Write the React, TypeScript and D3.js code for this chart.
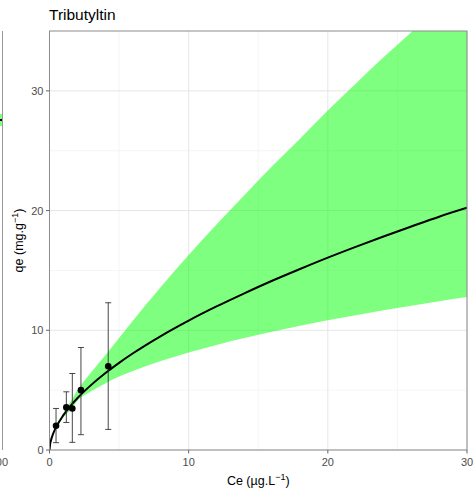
import React from "react";
import * as d3 from "d3";

const title = "Tributyltin";
const xTicks = [0, 10, 20, 30];
const yTicks = [0, 10, 20, 30];
const xMinor = [5, 15, 25];
const yMinor = [5, 15, 25];

// observed points (Ce, qe) with error bar bounds
const obsCe = [0.47, 1.21, 1.64, 2.26, 4.22];
const obsQe = [2.03, 3.56, 3.47, 5.0, 7.0];
const obsLow = [0.61, 2.3, 0.64, 1.28, 1.72];
const obsHigh = [3.47, 4.86, 6.39, 8.56, 12.3];

// fitted curve and confidence band
const fitCe = [0, 0.05, 0.1, 0.25, 0.5, 1, 1.5, 2, 3, 4, 5, 6, 8, 10, 12, 14, 16, 18, 20, 22, 24, 26, 28, 30];
const fitQe = [0, 0.53, 0.78, 1.32, 1.96, 2.91, 3.67, 4.32, 5.44, 6.41, 7.28, 8.08, 9.52, 10.81, 11.99, 13.09, 14.14, 15.12, 16.07, 16.97, 17.83, 18.67, 19.49, 20.23];
const bandHigh = [0, 0.55, 0.82, 1.4, 2.1, 3.1, 4.0, 5.0, 6.5, 7.9, 9.35, 10.82, 13.62, 16.28, 18.83, 21.28, 23.7, 26.0, 28.36, 30.6, 32.8, 34.9, 37.0, 39.1];
const bandLow = [0, 0.5, 0.74, 1.25, 1.85, 2.75, 3.3, 4.1, 4.9, 5.55, 6.13, 6.6, 7.43, 8.15, 8.78, 9.35, 9.88, 10.37, 10.83, 11.26, 11.67, 12.05, 12.43, 12.78];

const FONT = "'Liberation Sans', Arial, Helvetica, sans-serif";

export default function App() {
  const W = 475, H = 494;
  const left = 49.5, right = 467, top = 31, bottom = 450;
  const x = d3.scaleLinear().domain([0, 30]).range([left, right]);
  const y = d3.scaleLinear().domain([0, 35]).range([bottom, top]);

  const idx = fitCe.map((_, i) => i);
  const area = d3
    .area<number>()
    .x((i) => x(fitCe[i]))
    .y0((i) => y(bandLow[i]))
    .y1((i) => y(bandHigh[i]))
    .curve(d3.curveMonotoneX);
  const line = d3
    .line<number>()
    .x((i) => x(fitCe[i]))
    .y((i) => y(fitQe[i]))
    .curve(d3.curveMonotoneX);

  const tickCol = "#4d4d4d";
  const gridMajor = "#e6e6e6";
  const gridMinor = "#f2f2f2";

  return (
    <svg
      width={W}
      height={H}
      style={{ position: "absolute", left: 0, top: 0, background: "#fff" }}
      fontFamily={FONT}
    >
      <defs>
        <clipPath id="panel">
          <rect x={left} y={top} width={right - left} height={bottom - top} />
        </clipPath>
      </defs>
      <rect x={0} y={0} width={W} height={H} fill="#fff" />

      {/* partial left panel */}
      <rect x={0} y={114} width={2} height={12} fill="#80ff80" />
      <line x1={0} x2={2} y1={120} y2={120} stroke="#000" strokeWidth={2} />
      <line x1={2.5} x2={2.5} y1={top} y2={bottom} stroke="#999" strokeWidth={1} />
      <text x={8} y={466} fontSize={11} fill={tickCol} textAnchor="end">100</text>

      {/* grid */}
      {xMinor.map((v) => (
        <line key={"xm" + v} x1={x(v)} x2={x(v)} y1={top} y2={bottom} stroke={gridMinor} strokeWidth={0.8} />
      ))}
      {yMinor.map((v) => (
        <line key={"ym" + v} x1={left} x2={right} y1={y(v)} y2={y(v)} stroke={gridMinor} strokeWidth={0.8} />
      ))}
      {xTicks.map((v) => (
        <line key={"xg" + v} x1={x(v)} x2={x(v)} y1={top} y2={bottom} stroke={gridMajor} strokeWidth={1} />
      ))}
      {yTicks.map((v) => (
        <line key={"yg" + v} x1={left} x2={right} y1={y(v)} y2={y(v)} stroke={gridMajor} strokeWidth={1} />
      ))}

      <g clipPath="url(#panel)">
        <path d={area(idx) || ""} fill="#00ff00" fillOpacity={0.5} stroke="none" />
        <path d={line(idx) || ""} fill="none" stroke="#000" strokeWidth={2} />
      </g>

      {/* error bars */}
      {obsCe.map((c, i) => (
        <g key={"eb" + i} stroke="#333" strokeWidth={0.9}>
          <line x1={x(c)} x2={x(c)} y1={y(obsLow[i])} y2={y(obsHigh[i])} />
          <line x1={x(c) - 3} x2={x(c) + 3} y1={y(obsLow[i])} y2={y(obsLow[i])} />
          <line x1={x(c) - 3} x2={x(c) + 3} y1={y(obsHigh[i])} y2={y(obsHigh[i])} />
        </g>
      ))}
      {obsCe.map((c, i) => (
        <circle key={"pt" + i} cx={x(c)} cy={y(obsQe[i])} r={3.3} fill="#000" />
      ))}

      {/* panel border */}
      <rect x={left} y={top} width={right - left} height={bottom - top} fill="none" stroke="#8c8c8c" strokeWidth={1} />

      {/* axes ticks */}
      {xTicks.map((v) => (
        <g key={"xt" + v}>
          <line x1={x(v)} x2={x(v)} y1={bottom} y2={bottom + 3.5} stroke="#666" />
          <text x={x(v)} y={466} fontSize={11} fill={tickCol} textAnchor="middle">{v}</text>
        </g>
      ))}
      {yTicks.map((v) => (
        <g key={"yt" + v}>
          <line x1={left - 3.5} x2={left} y1={y(v)} y2={y(v)} stroke="#666" />
          <text x={left - 6} y={y(v) + 4} fontSize={11} fill={tickCol} textAnchor="end">{v}</text>
        </g>
      ))}

      {/* titles */}
      <text x={49} y={20} fontSize={15.5} fill="#000">{title}</text>
      <text x={(left + right) / 2} y={485} fontSize={12.5} fill="#000" textAnchor="middle">
        Ce (µg.L<tspan dy={-5} fontSize={9}>−1</tspan><tspan dy={5}>)</tspan>
      </text>
      <text
        transform={`translate(23, ${(top + bottom) / 2}) rotate(-90)`}
        fontSize={12.5}
        fill="#000"
        textAnchor="middle"
      >
        qe (mg.g<tspan dy={-5} fontSize={9}>−1</tspan><tspan dy={5}>)</tspan>
      </text>
    </svg>
  );
}
